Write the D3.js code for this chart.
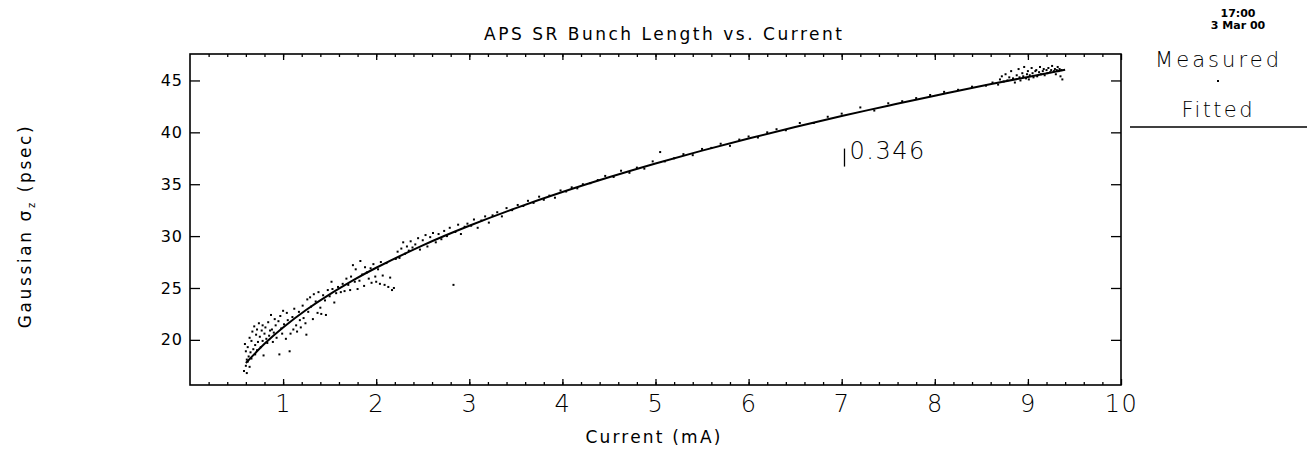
<!DOCTYPE html>
<html>
<head>
<meta charset="utf-8">
<script src="https://cdn.jsdelivr.net/npm/d3@7"></script>
<style>
  body { margin: 0; background: #fff; }
  text { font-family: "DejaVu Sans", "Liberation Sans", sans-serif; fill: #000; }
</style>
</head>
<body>
<div id="chart"></div>
<script>
const width = 1311;
const height = 453;

// measured bunch length (psec) vs. single-bunch current (mA)
const measuredCurrent = [
  0.58, 0.59, 0.60, 0.60, 0.61, 0.61, 0.62, 0.62, 0.63, 0.64, 0.64, 0.65, 0.66, 0.66, 0.67, 0.68, 0.69, 0.70, 0.70, 0.71,
  0.72, 0.72, 0.73, 0.74, 0.75, 0.76, 0.77, 0.78, 0.78, 0.79, 0.80, 0.81, 0.82, 0.83, 0.84, 0.85, 0.86, 0.87, 0.88, 0.89,
  0.90, 0.91, 0.92, 0.93, 0.95, 0.96, 0.97, 0.98, 0.99, 1.00,
  1.01, 1.03, 1.04, 1.05, 1.07, 1.08, 1.10, 1.11, 1.12, 1.14, 1.15, 1.17, 1.18, 1.19, 1.21, 1.22, 1.24, 1.25, 1.26, 1.27,
  1.29, 1.30, 1.32, 1.33, 1.35, 1.37, 1.38, 1.40, 1.41, 1.43, 1.45, 1.46, 1.48, 1.50, 1.52, 1.53, 1.55, 1.57,
  1.59, 1.62, 1.64, 1.66, 1.68, 1.70, 1.72, 1.73, 1.75, 1.77, 1.78, 1.80, 1.82, 1.83, 1.85, 1.87, 1.88, 1.90, 1.92, 1.94,
  1.95, 1.97, 1.99, 2.00, 2.02, 2.04, 2.05, 2.07, 2.09, 2.11, 2.13, 2.15, 2.17, 2.19, 2.21, 2.23, 2.25, 2.27, 2.29, 2.31,
  2.33, 2.35, 2.37, 2.39,
  2.42, 2.45, 2.47, 2.50, 2.53, 2.55, 2.58, 2.61, 2.64, 2.67, 2.70, 2.73, 2.76, 2.79, 2.83, 2.85, 2.88, 2.91, 2.95, 2.98,
  3.02, 3.05, 3.09, 3.13, 3.17, 3.21, 3.25,
  3.30, 3.35, 3.40, 3.46, 3.52, 3.58, 3.63, 3.69, 3.75, 3.80, 3.86, 3.92, 3.98, 4.04, 4.10, 4.16, 4.22, 4.30, 4.38, 4.46,
  4.55, 4.63, 4.72, 4.80, 4.88, 4.97, 5.05, 5.10,
  5.20, 5.30, 5.40, 5.50, 5.60, 5.70, 5.80, 5.90, 6.00, 6.10, 6.20, 6.30, 6.40, 6.55, 6.70, 6.85, 7.00, 7.20, 7.35, 7.50,
  7.65, 7.80, 7.95, 8.10, 8.25, 8.40, 8.55, 8.62,
  8.68, 8.70, 8.72, 8.74, 8.76, 8.78, 8.80, 8.82, 8.84, 8.86, 8.88, 8.90, 8.91, 8.92, 8.94, 8.95, 8.96, 8.98, 8.99, 9.00,
  9.01, 9.02, 9.04, 9.05, 9.06, 9.08, 9.09, 9.10, 9.12, 9.13, 9.14, 9.16, 9.17, 9.18, 9.20, 9.21, 9.22, 9.24, 9.25, 9.26,
  9.28, 9.29, 9.30, 9.31, 9.32, 9.33, 9.34, 9.35, 9.36, 9.37
];
const measuredSigma = [
  17.0, 19.6, 17.5, 18.9, 18.1, 16.8, 19.3, 17.9, 18.4, 20.2, 17.4, 18.8, 19.9, 18.2, 20.8, 19.1, 21.3, 19.5, 18.6, 20.5,
  21.0, 19.0, 19.8, 21.6, 20.3, 19.3, 20.9, 21.4, 19.9, 18.5, 20.6, 21.2, 20.1, 19.7, 21.7, 20.4, 20.9, 22.4, 21.0, 19.8,
  20.7, 22.0, 21.4, 20.2, 21.8, 18.6, 22.3, 21.1, 20.6, 22.8,
  21.5, 20.1, 22.6, 21.9, 18.9, 20.6, 22.2, 21.0, 23.0, 21.4, 20.8, 22.7, 21.9, 21.2, 23.3, 22.1, 21.6, 20.5, 23.9, 22.7,
  24.1, 23.2, 22.0, 24.4, 23.7, 22.6, 24.6, 23.1, 22.5, 24.3, 23.8, 22.4, 24.8, 24.2, 25.6, 24.9, 23.6, 24.5,
  25.1, 24.6, 25.4, 24.7, 25.9, 25.3, 24.8, 26.1, 27.2, 25.6, 26.8, 24.9, 25.7, 27.6, 26.3, 25.2, 27.0, 26.5, 25.9, 26.9,
  25.5, 27.3, 26.1, 25.6, 26.8, 25.4, 27.5, 26.2, 25.3, 27.4, 25.1, 26.0, 24.8, 25.0, 27.8, 28.5, 27.9, 28.8, 29.4, 28.3,
  29.0, 28.6, 29.5, 28.9,
  29.2, 29.8, 28.7, 29.6, 30.1, 29.0, 29.9, 30.3, 29.4, 30.2, 29.7, 30.5, 30.0, 30.8, 25.3, 30.4, 31.1, 30.2, 30.9, 31.2,
  31.0, 31.6, 30.8, 31.5, 31.9, 31.3, 32.0,
  32.3, 31.9, 32.7, 32.5, 33.0, 32.9, 33.4, 33.2, 33.8, 33.5, 33.9, 33.7, 34.4, 34.3, 34.7, 34.6, 35.0, 35.1, 35.4, 35.8,
  35.7, 36.3, 36.1, 36.6, 36.5, 37.2, 38.1, 37.2,
  37.5, 37.9, 37.8, 38.4, 38.5, 38.9, 38.7, 39.3, 39.6, 39.5, 40.0, 40.3, 40.2, 40.9, 40.9, 41.5, 41.8, 42.4, 42.1, 42.8,
  43.0, 43.3, 43.6, 43.9, 44.1, 44.4, 44.5, 44.8,
  44.6, 45.1, 45.4, 44.9, 45.6, 45.0, 45.3, 45.9, 45.2, 44.8, 45.5, 46.1, 45.3, 45.0, 45.7, 45.4, 46.3, 45.2, 45.6, 45.9,
  45.1, 45.5, 46.2, 45.7, 45.3, 45.9, 46.0, 45.4, 45.8, 46.3, 45.6, 45.9, 46.1, 45.5, 46.0, 45.7, 46.2, 45.8, 46.0, 46.4,
  45.9, 46.1, 45.6, 46.0, 46.3, 45.9, 46.1, 45.4, 46.0, 45.1
];

// fitted curve
const fitCurrent = [0.6, 0.8, 1.0, 1.25, 1.5, 1.75, 2.0, 2.5, 3.0, 3.5, 4.0, 4.5, 5.0, 5.5, 6.0, 6.5, 7.0, 7.5, 8.0, 8.5, 9.0, 9.4];
const fitSigma = [17.77, 19.62, 21.2, 22.90, 24.39, 25.73, 26.95, 29.11, 31.00, 32.70, 34.25, 35.67, 37.00, 38.24, 39.41, 40.51, 41.57, 42.57, 43.53, 44.46, 45.34, 46.03];

const xTicks = [1, 2, 3, 4, 5, 6, 7, 8, 9, 10];
const xMinorTicks = d3.range(1, 50).map(i => i / 5);
const yTicks = [20, 25, 30, 35, 40, 45];

const exponentLabel = "0.346";
const exponentAt = [7.03, 36.7];

const svg = d3.select("#chart").append("svg")
  .attr("width", width)
  .attr("height", height);

const x = d3.scaleLinear().domain([0, 10]).range([190, 1121]);
const y = d3.scaleLinear().domain([15.65, 47.55]).range([385, 54]);

const [x0, x1] = x.range();
const [yb, yt] = y.range();

// frame
svg.append("rect")
  .attr("x", x0).attr("y", yt)
  .attr("width", x1 - x0).attr("height", yb - yt)
  .attr("fill", "none").attr("stroke", "#000").attr("stroke-width", 1.6);

function styleAxis(g) {
  g.select(".domain").remove();
  g.selectAll(".tick line").attr("stroke", "#000").attr("stroke-width", 1.3);
}

// bottom
svg.append("g").attr("transform", `translate(0,${yb})`)
  .call(d3.axisBottom(x).tickValues(xMinorTicks).tickSize(-3).tickFormat(""))
  .call(styleAxis);
svg.append("g").attr("transform", `translate(0,${yb})`)
  .call(d3.axisBottom(x).tickValues(xTicks).tickSizeInner(-6).tickSizeOuter(0).tickPadding(10))
  .call(styleAxis)
  .selectAll("text").attr("font-size", 24).attr("font-weight", 200).attr("letter-spacing", 1.5);

// top
svg.append("g").attr("transform", `translate(0,${yt})`)
  .call(d3.axisTop(x).tickValues(xMinorTicks).tickSize(-3).tickFormat(""))
  .call(styleAxis);
svg.append("g").attr("transform", `translate(0,${yt})`)
  .call(d3.axisTop(x).tickValues(xTicks).tickSize(-6).tickFormat(""))
  .call(styleAxis);

// left
svg.append("g").attr("transform", `translate(${x0},0)`)
  .call(d3.axisLeft(y).tickValues(yTicks).tickSizeInner(-10).tickSizeOuter(0).tickPadding(7))
  .call(styleAxis)
  .selectAll("text").attr("font-size", 16).attr("letter-spacing", 1);

// right
svg.append("g").attr("transform", `translate(${x1},0)`)
  .call(d3.axisRight(y).tickValues(yTicks).tickSize(-10).tickFormat(""))
  .call(styleAxis);

// measured points
svg.append("g")
  .selectAll("rect")
  .data(d3.zip(measuredCurrent, measuredSigma))
  .join("rect")
  .attr("x", d => x(d[0]) - 1)
  .attr("y", d => y(d[1]) - 1)
  .attr("width", 2)
  .attr("height", 2)
  .attr("fill", "#000");

// fit
const line = d3.line()
  .x(d => x(d[0]))
  .y(d => y(d[1]))
  .curve(d3.curveNatural);

svg.append("path")
  .datum(d3.zip(fitCurrent, fitSigma))
  .attr("d", line)
  .attr("fill", "none")
  .attr("stroke", "#000")
  .attr("stroke-width", 2);

// exponent annotation
const ax = x(exponentAt[0]), ay = y(exponentAt[1]);
svg.append("line")
  .attr("x1", ax).attr("x2", ax)
  .attr("y1", ay - 18).attr("y2", ay)
  .attr("stroke", "#000").attr("stroke-width", 1.3);
svg.append("text")
  .attr("x", ax + 5).attr("y", ay - 8)
  .attr("font-size", 24).attr("font-weight", 200).attr("letter-spacing", 1.5)
  .text(exponentLabel);

// titles
svg.append("text")
  .attr("x", 663).attr("y", 40)
  .attr("text-anchor", "middle")
  .attr("font-size", 17)
  .attr("textLength", 358).attr("lengthAdjust", "spacing")
  .text("APS SR Bunch Length vs. Current");

svg.append("text")
  .attr("x", 654).attr("y", 443)
  .attr("text-anchor", "middle")
  .attr("font-size", 17).attr("letter-spacing", 2.2)
  .text("Current (mA)");

const ylab = svg.append("text")
  .attr("transform", "translate(31,226) rotate(-90)")
  .attr("text-anchor", "middle")
  .attr("font-size", 17).attr("letter-spacing", 2.6);
ylab.append("tspan").text("Gaussian  σ");
ylab.append("tspan").attr("font-size", 10).attr("dy", 4).text("z");
ylab.append("tspan").attr("dy", -4).text("  (psec)");

// stamp + legend
svg.append("text").attr("x", 1238).attr("y", 17).attr("text-anchor", "middle")
  .attr("font-size", 11).attr("font-weight", "bold").text("17:00");
svg.append("text").attr("x", 1238).attr("y", 29).attr("text-anchor", "middle")
  .attr("font-size", 11).attr("font-weight", "bold").text("3 Mar 00");

svg.append("text").attr("x", 1217).attr("y", 67).attr("text-anchor", "middle")
  .attr("font-size", 21).attr("font-weight", 200)
  .attr("textLength", 124).attr("lengthAdjust", "spacing").text("Measured");
svg.append("rect").attr("x", 1217).attr("y", 80).attr("width", 2).attr("height", 2).attr("fill", "#000");
svg.append("text").attr("x", 1217).attr("y", 117).attr("text-anchor", "middle")
  .attr("font-size", 21).attr("font-weight", 200)
  .attr("textLength", 71).attr("lengthAdjust", "spacing").text("Fitted");
svg.append("line").attr("x1", 1130).attr("x2", 1307).attr("y1", 127).attr("y2", 127)
  .attr("stroke", "#000").attr("stroke-width", 1.6);
</script>
</body>
</html>
